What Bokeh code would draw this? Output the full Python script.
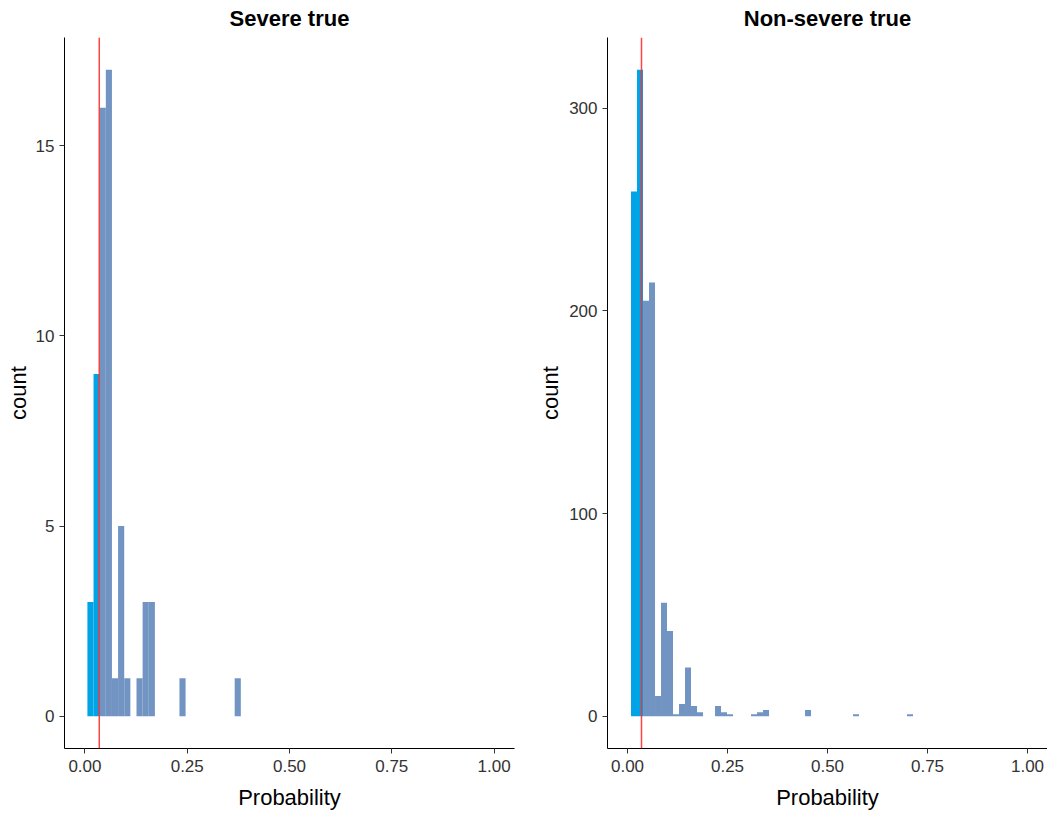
from bokeh.plotting import figure
from bokeh.layouts import row
from bokeh.models import Range1d, Span, FixedTicker, ColumnDataSource
from bokeh.embed import file_html
from bokeh.resources import INLINE

# ---------------- data ----------------
titles = ["Severe true", "Non-severe true"]
threshold = 0.035
bin_width = 0.015

severe_bin_start = 0.006
severe_counts = [3, 9, 16, 17, 1, 5, 1, 0, 1, 3, 3, 0, 0, 0, 0, 1,
                 0, 0, 0, 0, 0, 0, 0, 0, 1]

nonsevere_bin_start = 0.0088
nonsevere_counts = [259, 319, 205, 214, 10, 56, 42, 1, 6, 24, 5, 2, 0, 0, 5, 2,
                    1, 0, 0, 0, 1, 2, 3, 0, 0, 0, 0, 0, 0, 3, 0, 0, 0, 0, 0, 0,
                    0, 1, 0, 0, 0, 0, 0, 0, 0, 0, 1]

x_ticks = [0.0, 0.25, 0.5, 0.75, 1.0]
x_tick_labels = ["0.00", "0.25", "0.50", "0.75", "1.00"]
severe_y_ticks = [0, 5, 10, 15]
nonsevere_y_ticks = [0, 100, 200, 300]
x_label = "Probability"
y_label = "count"

below_color = "#00A3E6"
above_color = "#7194C2"
line_color = "#FF3030"
FONT = "Liberation Sans"


def make_panel(title, start, counts, y_ticks, border_left, border_right, frame_w, ylab_standoff):
    lefts, rights, tops, colors = [], [], [], []
    for i, c in enumerate(counts):
        if c == 0:
            continue
        l = start + i * bin_width
        r = l + bin_width
        lefts.append(l)
        rights.append(r)
        tops.append(c)
        colors.append(below_color if (l + r) / 2 < threshold else above_color)
    src = ColumnDataSource(dict(left=lefts, right=rights, top=tops, color=colors))
    ymax = max(counts)
    pad = ymax * 0.05
    p = figure(output_backend="svg", toolbar_location=None,
               frame_width=frame_w, frame_height=711,
               min_border_left=border_left, min_border_right=border_right,
               min_border_top=38, min_border_bottom=64,
               x_range=Range1d(-0.05, 1.05), y_range=Range1d(-pad, ymax + pad),
               title=title)
    p.quad(left="left", right="right", bottom=0, top="top", fill_color="color",
           line_color=None, source=src)
    p.add_layout(Span(location=threshold, dimension="height", line_color=line_color,
                      line_width=1.5, line_alpha=0.9))
    p.grid.visible = False
    p.outline_line_color = None
    p.background_fill_color = "white"
    p.border_fill_color = "white"

    p.title.align = "center"
    p.title.text_font = FONT
    p.title.text_font_size = "22px"
    p.title.text_font_style = "bold"
    p.title.text_color = "black"
    p.title.standoff = 14

    p.xaxis.ticker = FixedTicker(ticks=x_ticks)
    p.xaxis.major_label_overrides = {t: s for t, s in zip(x_ticks, x_tick_labels)}
    p.yaxis.ticker = FixedTicker(ticks=y_ticks)
    p.xaxis.axis_label = x_label
    p.yaxis.axis_label = y_label
    for ax in (p.xaxis, p.yaxis):
        ax.axis_line_color = "black"
        ax.axis_line_width = 1
        ax.major_tick_line_color = "#333333"
        ax.major_tick_out = 5
        ax.major_tick_in = 0
        ax.minor_tick_line_color = None
        ax.major_label_text_font = FONT
        ax.major_label_text_font_size = "17px"
        ax.major_label_text_color = "#333333"
        ax.axis_label_text_font = FONT
        ax.axis_label_text_font_size = "22px"
        ax.axis_label_text_font_style = "normal"
        ax.axis_label_text_color = "black"
    p.xaxis.major_label_standoff = 6
    p.xaxis.axis_label_standoff = 10
    p.yaxis.major_label_standoff = 5
    p.yaxis.axis_label_standoff = ylab_standoff
    return p


p1 = make_panel(titles[0], severe_bin_start, severe_counts, severe_y_ticks, 64, 21, 450, 2)
p2 = make_panel(titles[1], nonsevere_bin_start, nonsevere_counts, nonsevere_y_ticks, 72, 0, 440, 3)

layout = row(p1, p2, margin=(-4, 0, 0, 0))

open("out.html", "w").write(file_html(layout, INLINE))
